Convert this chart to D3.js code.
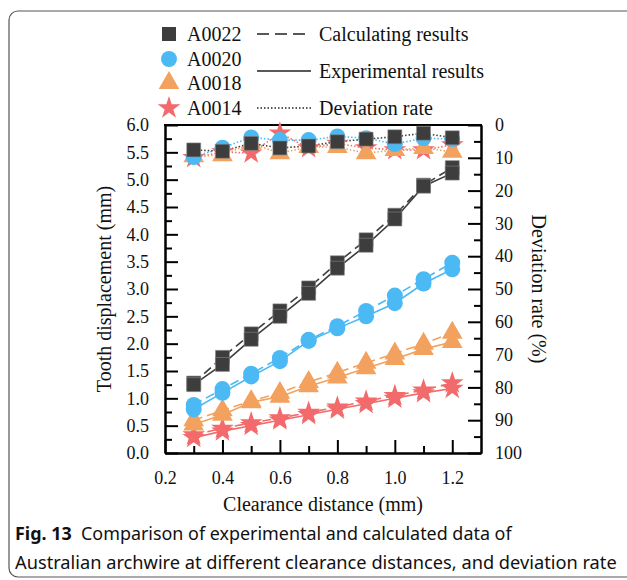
<!DOCTYPE html>
<html>
<head>
<meta charset="utf-8">
<script src="https://cdn.jsdelivr.net/npm/d3@7"></script>
<style>
  body { margin: 0; background: #fff; }
  text { font-family: "Liberation Serif", "Times New Roman", serif; fill: #111; }
</style>
</head>
<body>
<div id="chart"></div>
<script>
// clearance distance (mm)
var xVals = [0.3, 0.4, 0.5, 0.6, 0.7, 0.8, 0.9, 1.0, 1.1, 1.2];
var xTicks = [0.2, 0.4, 0.6, 0.8, 1.0, 1.2];
var yLeftTicks = [0, 0.5, 1, 1.5, 2, 2.5, 3, 3.5, 4, 4.5, 5, 5.5, 6];
var yRightTicks = [0, 10, 20, 30, 40, 50, 60, 70, 80, 90, 100];

var names = ["A0022", "A0020", "A0018", "A0014"];
var colors = ["#3d3d3d", "#4bb9f4", "#f2a25e", "#f26a6b"];

// calculated (dashed), experimental (solid), deviation rate (dotted, %)
var calcA0022 = [1.28, 1.75, 2.18, 2.60, 3.02, 3.48, 3.90, 4.35, 4.90, 5.22];
var expA0022  = [1.25, 1.62, 2.08, 2.50, 2.92, 3.38, 3.80, 4.28, 4.88, 5.12];
var devA0022  = [7.6, 8.0, 5.6, 7.0, 6.4, 5.1, 4.3, 3.6, 2.5, 3.9];

var calcA0020 = [0.88, 1.17, 1.45, 1.74, 2.07, 2.32, 2.60, 2.88, 3.18, 3.48];
var expA0020  = [0.80, 1.10, 1.40, 1.68, 2.05, 2.28, 2.50, 2.74, 3.10, 3.36];
var devA0020  = [9.8, 6.9, 3.8, 4.6, 4.6, 3.5, 4.0, 5.8, 4.0, 4.3];

var calcA0018 = [0.60, 0.78, 0.95, 1.10, 1.30, 1.47, 1.65, 1.82, 2.00, 2.20];
var expA0018  = [0.52, 0.70, 0.93, 1.03, 1.22, 1.38, 1.55, 1.72, 1.90, 2.03];
var devA0018  = [9.5, 9.2, 5.6, 8.6, 6.7, 6.7, 8.6, 7.6, 7.0, 8.2];

var calcA0014 = [0.33, 0.45, 0.55, 0.64, 0.74, 0.84, 0.95, 1.05, 1.15, 1.28];
var expA0014  = [0.28, 0.40, 0.50, 0.60, 0.70, 0.80, 0.90, 1.00, 1.10, 1.18];
var devA0014  = [10.0, 8.2, 8.6, 2.5, 7.0, 5.6, 7.0, 7.6, 7.6, 6.1];

var calcAll = [calcA0022, calcA0020, calcA0018, calcA0014];
var expAll = [expA0022, expA0020, expA0018, expA0014];
var devAll = [devA0022, devA0020, devA0018, devA0014];

var W = 627, H = 580;
var pLeft = 165, pRight = 481, pTop = 125, pBottom = 453;

var svg = d3.select("#chart").append("svg")
    .attr("width", W)
    .attr("height", H);

// figure frame
svg.append("rect")
    .attr("x", 9).attr("y", 11)
    .attr("width", 700).attr("height", 566)
    .attr("rx", 9)
    .attr("fill", "none")
    .attr("stroke", "#555")
    .attr("stroke-width", 1.2);

var x = d3.scaleLinear().domain([0.2, 1.3]).range([pLeft, pRight]);
var yL = d3.scaleLinear().domain([0, 6]).range([pBottom, pTop]);
var yR = d3.scaleLinear().domain([0, 100]).range([pTop, pBottom]);

var symbols = [
    d3.symbol().type(d3.symbolSquare).size(195),
    d3.symbol().type(d3.symbolCircle).size(200),
    d3.symbol().type(d3.symbolTriangle).size(185),
    d3.symbol().type(d3.symbolStar).size(160)
];

// axes: minor and major ticks pointing inward
function styleAxis(g) {
    g.selectAll(".domain").attr("stroke", "#000").attr("stroke-width", 2);
    g.selectAll(".tick line").attr("stroke", "#000").attr("stroke-width", 2);
    g.selectAll("text").attr("font-size", 18).attr("font-family", "Liberation Serif").attr("fill", "#111");
}

svg.append("g").attr("transform", "translate(0," + pBottom + ")")
    .call(d3.axisBottom(x).tickValues(d3.range(0.3, 1.25, 0.2)).tickSizeInner(-7).tickSizeOuter(0).tickFormat(""))
    .call(styleAxis);
svg.append("g").attr("transform", "translate(0," + pBottom + ")")
    .call(d3.axisBottom(x).tickValues(xTicks).tickSizeInner(-13).tickSizeOuter(0).tickPadding(18).tickFormat(d3.format(".1f")))
    .call(styleAxis);

svg.append("g").attr("transform", "translate(" + pLeft + ",0)")
    .call(d3.axisLeft(yL).tickValues(d3.range(0.25, 6, 0.5)).tickSizeInner(-7).tickSizeOuter(0).tickFormat(""))
    .call(styleAxis);
svg.append("g").attr("transform", "translate(" + pLeft + ",0)")
    .call(d3.axisLeft(yL).tickValues(yLeftTicks).tickSizeInner(-13).tickSizeOuter(0).tickPadding(16).tickFormat(d3.format(".1f")))
    .call(styleAxis);

svg.append("g").attr("transform", "translate(" + pRight + ",0)")
    .call(d3.axisRight(yR).tickValues(d3.range(5, 100, 10)).tickSizeInner(-7).tickSizeOuter(0).tickFormat(""))
    .call(styleAxis);
svg.append("g").attr("transform", "translate(" + pRight + ",0)")
    .call(d3.axisRight(yR).tickValues(yRightTicks).tickSizeInner(-13).tickSizeOuter(0).tickPadding(14))
    .call(styleAxis);

svg.append("line")
    .attr("x1", pLeft - 1).attr("x2", pRight + 1)
    .attr("y1", pTop).attr("y2", pTop)
    .attr("stroke", "#000").attr("stroke-width", 2);

// axis titles
svg.append("text")
    .attr("transform", "translate(111," + (pTop + pBottom) / 2 + ") rotate(-90)")
    .attr("text-anchor", "middle")
    .attr("font-size", 20)
    .text("Tooth displacement (mm)");
svg.append("text")
    .attr("transform", "translate(532," + (pTop + pBottom) / 2 + ") rotate(90)")
    .attr("text-anchor", "middle")
    .attr("font-size", 20)
    .text("Deviation rate (%)");
svg.append("text")
    .attr("x", (pLeft + pRight) / 2).attr("y", 511)
    .attr("text-anchor", "middle")
    .attr("font-size", 20)
    .text("Clearance distance (mm)");

// lines
var plot = svg.append("g");
var lineL = function(vals) {
    return d3.line().x(function(d, i) { return x(xVals[i]); }).y(function(d) { return yL(d); })(vals);
};
var lineR = function(vals) {
    return d3.line().x(function(d, i) { return x(xVals[i]); }).y(function(d) { return yR(d); })(vals);
};

var order = [3, 2, 1, 0];
order.forEach(function(s) {
    plot.append("path").attr("d", lineL(calcAll[s]))
        .attr("fill", "none").attr("stroke", colors[s]).attr("stroke-width", 1.6)
        .attr("stroke-dasharray", "9,5");
    plot.append("path").attr("d", lineL(expAll[s]))
        .attr("fill", "none").attr("stroke", colors[s]).attr("stroke-width", 1.6);
    plot.append("path").attr("d", lineR(devAll[s]))
        .attr("fill", "none").attr("stroke", colors[s]).attr("stroke-width", 1.6)
        .attr("stroke-dasharray", "1.5,2");
});

order.forEach(function(s) {
    [calcAll[s], expAll[s]].forEach(function(vals) {
        plot.selectAll(null).data(vals).enter().append("path")
            .attr("d", symbols[s])
            .attr("transform", function(d, i) { return "translate(" + x(xVals[i]) + "," + yL(d) + ")"; })
            .attr("fill", colors[s])
            .attr("stroke", s === 0 ? "#888" : "none")
            .attr("stroke-width", 0.6);
    });
});
order.forEach(function(s) {
    plot.selectAll(null).data(devAll[s]).enter().append("path")
        .attr("d", symbols[s])
        .attr("transform", function(d, i) { return "translate(" + x(xVals[i]) + "," + yR(d) + ")"; })
        .attr("fill", colors[s])
        .attr("stroke", s === 0 ? "#888" : "none")
        .attr("stroke-width", 0.6);
});

// legend
var legendY = [34, 59, 83, 108];
var legend = svg.append("g");
names.forEach(function(n, i) {
    legend.append("path")
        .attr("d", symbols[i])
        .attr("transform", "translate(169," + legendY[i] + ")")
        .attr("fill", colors[i]);
    legend.append("text")
        .attr("x", 187).attr("y", legendY[i] + 7)
        .attr("font-size", 20)
        .text(n);
});
var lineKeys = [
    { y: 34, dash: "12,6", label: "Calculating results" },
    { y: 71, dash: null, label: "Experimental results" },
    { y: 108, dash: "1.5,2", label: "Deviation rate" }
];
lineKeys.forEach(function(k) {
    legend.append("line")
        .attr("x1", 257).attr("x2", 311)
        .attr("y1", k.y).attr("y2", k.y)
        .attr("stroke", "#222").attr("stroke-width", 1.6)
        .attr("stroke-dasharray", k.dash);
    legend.append("text")
        .attr("x", 319).attr("y", k.y + 7)
        .attr("font-size", 20)
        .text(k.label);
});

// caption
var cap1 = svg.append("text").attr("x", 15).attr("y", 540)
    .style("font-family", "'Noto Sans', 'Open Sans', sans-serif").attr("font-size", 16);
cap1.append("tspan").attr("font-weight", "bold").text("Fig. 13");
cap1.append("tspan").text("\u00a0\u00a0Comparison of experimental and calculated data of");
var cap2 = svg.append("text").attr("x", 15).attr("y", 569)
    .style("font-family", "'Noto Sans', 'Open Sans', sans-serif").attr("font-size", 16)
    .text("Australian archwire at different clearance distances, and deviation rate");

[[cap1, 497], [cap2, 602]].forEach(function(c) {
    var w = c[0].node().getComputedTextLength();
    c[0].attr("font-size", 16 * c[1] / w);
});
</script>
</body>
</html>
